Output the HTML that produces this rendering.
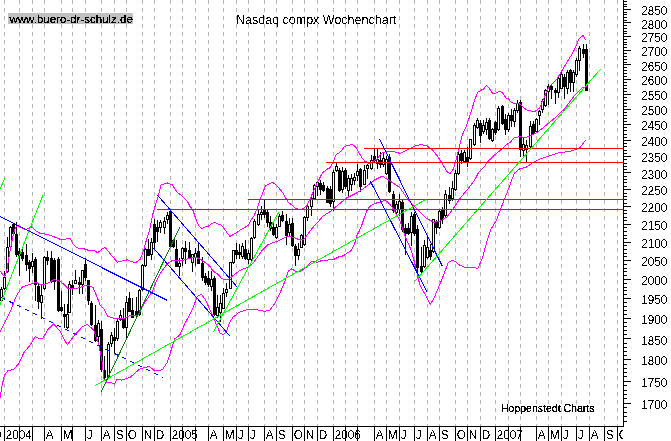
<!DOCTYPE html>
<html><head><meta charset="utf-8"><style>
html,body{margin:0;padding:0;background:#fff;overflow:hidden;}
svg{display:block;}
text{font-family:"Liberation Sans",sans-serif;fill:#000;filter:url(#crisp);}
.ax{font-size:13px;}
.mo{font-size:13px;}
.web{font-size:11.5px;filter:url(#crisp2);}
.title{font-size:12.5px;}
.hop{font-size:10.5px;filter:url(#crisp2);}
</style></head><body>
<svg width="671" height="441" viewBox="0 0 671 441" shape-rendering="crispEdges">
<defs><filter id="crisp" x="-10%" y="-30%" width="120%" height="160%"><feComponentTransfer><feFuncA type="discrete" tableValues="0 1"/></feComponentTransfer></filter><filter id="crisp2" x="-10%" y="-30%" width="120%" height="160%"><feComponentTransfer><feFuncA type="discrete" tableValues="0 0 1 1 1 1"/></feComponentTransfer></filter></defs>
<rect width="671" height="441" fill="#fff"/>
<line x1="4.5" y1="0" x2="4.5" y2="426" stroke="#b4b4b4" stroke-dasharray="4 4"/>
<line x1="19.5" y1="0" x2="19.5" y2="426" stroke="#b4b4b4" stroke-dasharray="4 4"/>
<line x1="32.5" y1="0" x2="32.5" y2="426" stroke="#b4b4b4" stroke-dasharray="4 4"/>
<line x1="44.5" y1="0" x2="44.5" y2="426" stroke="#b4b4b4" stroke-dasharray="4 4"/>
<line x1="61.5" y1="0" x2="61.5" y2="426" stroke="#b4b4b4" stroke-dasharray="4 4"/>
<line x1="72.5" y1="0" x2="72.5" y2="426" stroke="#b4b4b4" stroke-dasharray="4 4"/>
<line x1="85.5" y1="0" x2="85.5" y2="426" stroke="#b4b4b4" stroke-dasharray="4 4"/>
<line x1="101.5" y1="0" x2="101.5" y2="426" stroke="#b4b4b4" stroke-dasharray="4 4"/>
<line x1="114.5" y1="0" x2="114.5" y2="426" stroke="#b4b4b4" stroke-dasharray="4 4"/>
<line x1="126.5" y1="0" x2="126.5" y2="426" stroke="#b4b4b4" stroke-dasharray="4 4"/>
<line x1="142.5" y1="0" x2="142.5" y2="426" stroke="#b4b4b4" stroke-dasharray="4 4"/>
<line x1="154.5" y1="0" x2="154.5" y2="426" stroke="#b4b4b4" stroke-dasharray="4 4"/>
<line x1="170.5" y1="0" x2="170.5" y2="426" stroke="#b4b4b4" stroke-dasharray="4 4"/>
<line x1="182.5" y1="0" x2="182.5" y2="426" stroke="#b4b4b4" stroke-dasharray="4 4"/>
<line x1="195.5" y1="0" x2="195.5" y2="426" stroke="#b4b4b4" stroke-dasharray="4 4"/>
<line x1="208.5" y1="0" x2="208.5" y2="426" stroke="#b4b4b4" stroke-dasharray="4 4"/>
<line x1="223.5" y1="0" x2="223.5" y2="426" stroke="#b4b4b4" stroke-dasharray="4 4"/>
<line x1="236.5" y1="0" x2="236.5" y2="426" stroke="#b4b4b4" stroke-dasharray="4 4"/>
<line x1="248.5" y1="0" x2="248.5" y2="426" stroke="#b4b4b4" stroke-dasharray="4 4"/>
<line x1="264.5" y1="0" x2="264.5" y2="426" stroke="#b4b4b4" stroke-dasharray="4 4"/>
<line x1="276.5" y1="0" x2="276.5" y2="426" stroke="#b4b4b4" stroke-dasharray="4 4"/>
<line x1="292.5" y1="0" x2="292.5" y2="426" stroke="#b4b4b4" stroke-dasharray="4 4"/>
<line x1="304.5" y1="0" x2="304.5" y2="426" stroke="#b4b4b4" stroke-dasharray="4 4"/>
<line x1="317.5" y1="0" x2="317.5" y2="426" stroke="#b4b4b4" stroke-dasharray="4 4"/>
<line x1="333.5" y1="0" x2="333.5" y2="426" stroke="#b4b4b4" stroke-dasharray="4 4"/>
<line x1="345.5" y1="0" x2="345.5" y2="426" stroke="#b4b4b4" stroke-dasharray="4 4"/>
<line x1="357.5" y1="0" x2="357.5" y2="426" stroke="#b4b4b4" stroke-dasharray="4 4"/>
<line x1="374.5" y1="0" x2="374.5" y2="426" stroke="#b4b4b4" stroke-dasharray="4 4"/>
<line x1="386.5" y1="0" x2="386.5" y2="426" stroke="#b4b4b4" stroke-dasharray="4 4"/>
<line x1="399.5" y1="0" x2="399.5" y2="426" stroke="#b4b4b4" stroke-dasharray="4 4"/>
<line x1="414.5" y1="0" x2="414.5" y2="426" stroke="#b4b4b4" stroke-dasharray="4 4"/>
<line x1="427.5" y1="0" x2="427.5" y2="426" stroke="#b4b4b4" stroke-dasharray="4 4"/>
<line x1="439.5" y1="0" x2="439.5" y2="426" stroke="#b4b4b4" stroke-dasharray="4 4"/>
<line x1="455.5" y1="0" x2="455.5" y2="426" stroke="#b4b4b4" stroke-dasharray="4 4"/>
<line x1="467.5" y1="0" x2="467.5" y2="426" stroke="#b4b4b4" stroke-dasharray="4 4"/>
<line x1="480.5" y1="0" x2="480.5" y2="426" stroke="#b4b4b4" stroke-dasharray="4 4"/>
<line x1="495.5" y1="0" x2="495.5" y2="426" stroke="#b4b4b4" stroke-dasharray="4 4"/>
<line x1="508.5" y1="0" x2="508.5" y2="426" stroke="#b4b4b4" stroke-dasharray="4 4"/>
<line x1="520.5" y1="0" x2="520.5" y2="426" stroke="#b4b4b4" stroke-dasharray="4 4"/>
<line x1="536.5" y1="0" x2="536.5" y2="426" stroke="#b4b4b4" stroke-dasharray="4 4"/>
<line x1="548.5" y1="0" x2="548.5" y2="426" stroke="#b4b4b4" stroke-dasharray="4 4"/>
<line x1="561.5" y1="0" x2="561.5" y2="426" stroke="#b4b4b4" stroke-dasharray="4 4"/>
<line x1="576.5" y1="0" x2="576.5" y2="426" stroke="#b4b4b4" stroke-dasharray="4 4"/>
<line x1="589.5" y1="0" x2="589.5" y2="426" stroke="#b4b4b4" stroke-dasharray="4 4"/>
<line x1="604.5" y1="0" x2="604.5" y2="426" stroke="#b4b4b4" stroke-dasharray="4 4"/>
<line x1="617.5" y1="0" x2="617.5" y2="426" stroke="#b4b4b4" stroke-dasharray="4 4"/>
<rect x="8" y="13" width="125" height="11" fill="#c0c0c0"/>
<text x="9.5" y="22.5" class="web">www.buero-dr-schulz.de</text>
<text x="236" y="23.7" class="title">Nasdaq compx Wochenchart</text>
<text x="501" y="411.8" class="hop">Hoppenstedt Charts</text>
<rect x="1" y="287" width="1" height="15" fill="#000"/>
<rect x="0" y="289" width="3" height="12" fill="#000"/>
<rect x="1" y="290" width="1" height="10" fill="#fff"/>
<rect x="4" y="271" width="1" height="19" fill="#000"/>
<rect x="3" y="277" width="3" height="12" fill="#000"/>
<rect x="4" y="278" width="1" height="10" fill="#fff"/>
<rect x="7" y="237" width="1" height="36" fill="#000"/>
<rect x="6" y="247" width="3" height="25" fill="#000"/>
<rect x="7" y="248" width="1" height="23" fill="#fff"/>
<rect x="10" y="226" width="1" height="22" fill="#000"/>
<rect x="9" y="227" width="3" height="20" fill="#000"/>
<rect x="10" y="228" width="1" height="18" fill="#fff"/>
<rect x="13" y="223" width="1" height="12" fill="#000"/>
<rect x="12" y="224" width="3" height="10" fill="#000"/>
<rect x="16" y="222" width="1" height="35" fill="#000"/>
<rect x="15" y="234" width="3" height="21" fill="#000"/>
<rect x="19" y="248" width="1" height="28" fill="#000"/>
<rect x="18" y="251" width="3" height="5" fill="#000"/>
<rect x="22" y="248" width="1" height="13" fill="#000"/>
<rect x="21" y="252" width="3" height="7" fill="#000"/>
<rect x="26" y="244" width="1" height="27" fill="#000"/>
<rect x="25" y="255" width="3" height="10" fill="#000"/>
<rect x="29" y="260" width="1" height="22" fill="#000"/>
<rect x="28" y="262" width="3" height="7" fill="#000"/>
<rect x="32" y="253" width="1" height="20" fill="#000"/>
<rect x="31" y="261" width="3" height="6" fill="#000"/>
<rect x="32" y="262" width="1" height="4" fill="#fff"/>
<rect x="35" y="257" width="1" height="44" fill="#000"/>
<rect x="34" y="259" width="3" height="26" fill="#000"/>
<rect x="38" y="283" width="1" height="26" fill="#000"/>
<rect x="37" y="286" width="3" height="16" fill="#000"/>
<rect x="41" y="285" width="1" height="34" fill="#000"/>
<rect x="40" y="295" width="3" height="8" fill="#000"/>
<rect x="41" y="296" width="1" height="6" fill="#fff"/>
<rect x="44" y="256" width="1" height="34" fill="#000"/>
<rect x="43" y="257" width="3" height="32" fill="#000"/>
<rect x="44" y="258" width="1" height="30" fill="#fff"/>
<rect x="47" y="251" width="1" height="14" fill="#000"/>
<rect x="46" y="257" width="3" height="4" fill="#000"/>
<rect x="51" y="251" width="1" height="32" fill="#000"/>
<rect x="50" y="258" width="3" height="24" fill="#000"/>
<rect x="54" y="258" width="1" height="32" fill="#000"/>
<rect x="53" y="260" width="3" height="22" fill="#000"/>
<rect x="58" y="257" width="1" height="55" fill="#000"/>
<rect x="57" y="259" width="3" height="52" fill="#000"/>
<rect x="61" y="291" width="1" height="21" fill="#000"/>
<rect x="60" y="307" width="3" height="4" fill="#000"/>
<rect x="64" y="304" width="1" height="24" fill="#000"/>
<rect x="63" y="314" width="3" height="3" fill="#000"/>
<rect x="67" y="304" width="1" height="25" fill="#000"/>
<rect x="66" y="314" width="3" height="14" fill="#000"/>
<rect x="67" y="315" width="1" height="12" fill="#fff"/>
<rect x="69" y="281" width="1" height="32" fill="#000"/>
<rect x="68" y="284" width="3" height="29" fill="#000"/>
<rect x="69" y="285" width="1" height="27" fill="#fff"/>
<rect x="72" y="280" width="1" height="15" fill="#000"/>
<rect x="71" y="285" width="3" height="4" fill="#000"/>
<rect x="75" y="270" width="1" height="14" fill="#000"/>
<rect x="74" y="280" width="3" height="4" fill="#000"/>
<rect x="75" y="281" width="1" height="2" fill="#fff"/>
<rect x="79" y="277" width="1" height="17" fill="#000"/>
<rect x="78" y="282" width="3" height="3" fill="#000"/>
<rect x="82" y="270" width="1" height="24" fill="#000"/>
<rect x="81" y="270" width="3" height="15" fill="#000"/>
<rect x="82" y="271" width="1" height="13" fill="#fff"/>
<rect x="85" y="258" width="1" height="23" fill="#000"/>
<rect x="84" y="264" width="3" height="14" fill="#000"/>
<rect x="88" y="280" width="1" height="25" fill="#000"/>
<rect x="87" y="280" width="3" height="21" fill="#000"/>
<rect x="91" y="301" width="1" height="25" fill="#000"/>
<rect x="90" y="303" width="3" height="22" fill="#000"/>
<rect x="95" y="305" width="1" height="37" fill="#000"/>
<rect x="94" y="325" width="3" height="16" fill="#000"/>
<rect x="98" y="320" width="1" height="22" fill="#000"/>
<rect x="97" y="323" width="3" height="14" fill="#000"/>
<rect x="98" y="324" width="1" height="12" fill="#fff"/>
<rect x="101" y="321" width="1" height="51" fill="#000"/>
<rect x="100" y="329" width="3" height="41" fill="#000"/>
<rect x="104" y="356" width="1" height="24" fill="#000"/>
<rect x="103" y="370" width="3" height="8" fill="#000"/>
<rect x="108" y="342" width="1" height="37" fill="#000"/>
<rect x="107" y="344" width="3" height="34" fill="#000"/>
<rect x="108" y="345" width="1" height="32" fill="#fff"/>
<rect x="111" y="332" width="1" height="15" fill="#000"/>
<rect x="110" y="335" width="3" height="9" fill="#000"/>
<rect x="111" y="336" width="1" height="7" fill="#fff"/>
<rect x="114" y="328" width="1" height="26" fill="#000"/>
<rect x="113" y="337" width="3" height="4" fill="#000"/>
<rect x="117" y="318" width="1" height="23" fill="#000"/>
<rect x="116" y="321" width="3" height="18" fill="#000"/>
<rect x="117" y="322" width="1" height="16" fill="#fff"/>
<rect x="120" y="310" width="1" height="11" fill="#000"/>
<rect x="119" y="315" width="3" height="5" fill="#000"/>
<rect x="120" y="316" width="1" height="3" fill="#fff"/>
<rect x="123" y="308" width="1" height="21" fill="#000"/>
<rect x="122" y="318" width="3" height="10" fill="#000"/>
<rect x="126" y="296" width="1" height="43" fill="#000"/>
<rect x="125" y="302" width="3" height="26" fill="#000"/>
<rect x="126" y="303" width="1" height="24" fill="#fff"/>
<rect x="129" y="292" width="1" height="20" fill="#000"/>
<rect x="128" y="298" width="3" height="14" fill="#000"/>
<rect x="132" y="298" width="1" height="20" fill="#000"/>
<rect x="131" y="310" width="3" height="8" fill="#000"/>
<rect x="136" y="297" width="1" height="21" fill="#000"/>
<rect x="135" y="311" width="3" height="5" fill="#000"/>
<rect x="139" y="289" width="1" height="27" fill="#000"/>
<rect x="138" y="290" width="3" height="25" fill="#000"/>
<rect x="139" y="291" width="1" height="23" fill="#fff"/>
<rect x="142" y="264" width="1" height="27" fill="#000"/>
<rect x="141" y="265" width="3" height="25" fill="#000"/>
<rect x="142" y="266" width="1" height="23" fill="#fff"/>
<rect x="145" y="248" width="1" height="19" fill="#000"/>
<rect x="144" y="249" width="3" height="17" fill="#000"/>
<rect x="145" y="250" width="1" height="15" fill="#fff"/>
<rect x="148" y="239" width="1" height="17" fill="#000"/>
<rect x="147" y="249" width="3" height="7" fill="#000"/>
<rect x="151" y="238" width="1" height="22" fill="#000"/>
<rect x="150" y="242" width="3" height="13" fill="#000"/>
<rect x="151" y="243" width="1" height="11" fill="#fff"/>
<rect x="154" y="219" width="1" height="30" fill="#000"/>
<rect x="153" y="224" width="3" height="19" fill="#000"/>
<rect x="157" y="220" width="1" height="22" fill="#000"/>
<rect x="156" y="227" width="3" height="5" fill="#000"/>
<rect x="160" y="220" width="1" height="13" fill="#000"/>
<rect x="159" y="222" width="3" height="6" fill="#000"/>
<rect x="160" y="223" width="1" height="4" fill="#fff"/>
<rect x="164" y="217" width="1" height="17" fill="#000"/>
<rect x="163" y="221" width="3" height="7" fill="#000"/>
<rect x="164" y="222" width="1" height="5" fill="#fff"/>
<rect x="167" y="212" width="1" height="12" fill="#000"/>
<rect x="166" y="215" width="3" height="5" fill="#000"/>
<rect x="167" y="216" width="1" height="3" fill="#fff"/>
<rect x="170" y="209" width="1" height="38" fill="#000"/>
<rect x="169" y="211" width="3" height="36" fill="#000"/>
<rect x="173" y="239" width="1" height="9" fill="#000"/>
<rect x="172" y="240" width="3" height="7" fill="#000"/>
<rect x="176" y="240" width="1" height="27" fill="#000"/>
<rect x="175" y="249" width="3" height="18" fill="#000"/>
<rect x="179" y="258" width="1" height="18" fill="#000"/>
<rect x="178" y="263" width="3" height="4" fill="#000"/>
<rect x="179" y="264" width="1" height="2" fill="#fff"/>
<rect x="182" y="247" width="1" height="19" fill="#000"/>
<rect x="181" y="248" width="3" height="11" fill="#000"/>
<rect x="182" y="249" width="1" height="9" fill="#fff"/>
<rect x="185" y="241" width="1" height="23" fill="#000"/>
<rect x="184" y="248" width="3" height="4" fill="#000"/>
<rect x="189" y="242" width="1" height="17" fill="#000"/>
<rect x="188" y="250" width="3" height="8" fill="#000"/>
<rect x="192" y="254" width="1" height="18" fill="#000"/>
<rect x="191" y="254" width="3" height="9" fill="#000"/>
<rect x="192" y="255" width="1" height="7" fill="#fff"/>
<rect x="195" y="248" width="1" height="18" fill="#000"/>
<rect x="194" y="253" width="3" height="5" fill="#000"/>
<rect x="195" y="254" width="1" height="3" fill="#fff"/>
<rect x="198" y="243" width="1" height="21" fill="#000"/>
<rect x="197" y="251" width="3" height="13" fill="#000"/>
<rect x="202" y="257" width="1" height="24" fill="#000"/>
<rect x="201" y="263" width="3" height="15" fill="#000"/>
<rect x="205" y="273" width="1" height="12" fill="#000"/>
<rect x="204" y="276" width="3" height="7" fill="#000"/>
<rect x="208" y="271" width="1" height="16" fill="#000"/>
<rect x="207" y="278" width="3" height="7" fill="#000"/>
<rect x="211" y="271" width="1" height="20" fill="#000"/>
<rect x="210" y="279" width="3" height="8" fill="#000"/>
<rect x="211" y="280" width="1" height="6" fill="#fff"/>
<rect x="214" y="276" width="1" height="40" fill="#000"/>
<rect x="213" y="278" width="3" height="37" fill="#000"/>
<rect x="217" y="295" width="1" height="23" fill="#000"/>
<rect x="216" y="307" width="3" height="9" fill="#000"/>
<rect x="217" y="308" width="1" height="7" fill="#fff"/>
<rect x="220" y="295" width="1" height="27" fill="#000"/>
<rect x="219" y="303" width="3" height="10" fill="#000"/>
<rect x="220" y="304" width="1" height="8" fill="#fff"/>
<rect x="223" y="288" width="1" height="21" fill="#000"/>
<rect x="222" y="293" width="3" height="16" fill="#000"/>
<rect x="223" y="294" width="1" height="14" fill="#fff"/>
<rect x="226" y="283" width="1" height="14" fill="#000"/>
<rect x="225" y="289" width="3" height="4" fill="#000"/>
<rect x="226" y="290" width="1" height="2" fill="#fff"/>
<rect x="230" y="262" width="1" height="27" fill="#000"/>
<rect x="229" y="262" width="3" height="27" fill="#000"/>
<rect x="230" y="263" width="1" height="25" fill="#fff"/>
<rect x="233" y="250" width="1" height="14" fill="#000"/>
<rect x="232" y="250" width="3" height="13" fill="#000"/>
<rect x="233" y="251" width="1" height="11" fill="#fff"/>
<rect x="236" y="243" width="1" height="16" fill="#000"/>
<rect x="235" y="250" width="3" height="5" fill="#000"/>
<rect x="239" y="244" width="1" height="15" fill="#000"/>
<rect x="238" y="252" width="3" height="3" fill="#000"/>
<rect x="242" y="243" width="1" height="16" fill="#000"/>
<rect x="241" y="246" width="3" height="11" fill="#000"/>
<rect x="242" y="247" width="1" height="9" fill="#fff"/>
<rect x="245" y="240" width="1" height="20" fill="#000"/>
<rect x="244" y="249" width="3" height="10" fill="#000"/>
<rect x="248" y="250" width="1" height="14" fill="#000"/>
<rect x="247" y="253" width="3" height="7" fill="#000"/>
<rect x="248" y="254" width="1" height="5" fill="#fff"/>
<rect x="251" y="237" width="1" height="24" fill="#000"/>
<rect x="250" y="238" width="3" height="22" fill="#000"/>
<rect x="251" y="239" width="1" height="20" fill="#fff"/>
<rect x="254" y="219" width="1" height="20" fill="#000"/>
<rect x="253" y="221" width="3" height="17" fill="#000"/>
<rect x="254" y="222" width="1" height="15" fill="#fff"/>
<rect x="258" y="210" width="1" height="16" fill="#000"/>
<rect x="257" y="214" width="3" height="11" fill="#000"/>
<rect x="258" y="215" width="1" height="9" fill="#fff"/>
<rect x="261" y="206" width="1" height="14" fill="#000"/>
<rect x="260" y="212" width="3" height="3" fill="#000"/>
<rect x="261" y="213" width="1" height="1" fill="#fff"/>
<rect x="264" y="200" width="1" height="18" fill="#000"/>
<rect x="263" y="210" width="3" height="5" fill="#000"/>
<rect x="267" y="210" width="1" height="17" fill="#000"/>
<rect x="266" y="212" width="3" height="11" fill="#000"/>
<rect x="270" y="216" width="1" height="15" fill="#000"/>
<rect x="269" y="222" width="3" height="7" fill="#000"/>
<rect x="273" y="222" width="1" height="14" fill="#000"/>
<rect x="272" y="227" width="3" height="8" fill="#000"/>
<rect x="276" y="224" width="1" height="15" fill="#000"/>
<rect x="275" y="227" width="3" height="11" fill="#000"/>
<rect x="276" y="228" width="1" height="9" fill="#fff"/>
<rect x="279" y="214" width="1" height="13" fill="#000"/>
<rect x="278" y="216" width="3" height="11" fill="#000"/>
<rect x="279" y="217" width="1" height="9" fill="#fff"/>
<rect x="282" y="211" width="1" height="11" fill="#000"/>
<rect x="281" y="215" width="3" height="6" fill="#000"/>
<rect x="286" y="214" width="1" height="31" fill="#000"/>
<rect x="285" y="221" width="3" height="15" fill="#000"/>
<rect x="289" y="218" width="1" height="18" fill="#000"/>
<rect x="288" y="224" width="3" height="9" fill="#000"/>
<rect x="289" y="225" width="1" height="7" fill="#fff"/>
<rect x="292" y="218" width="1" height="29" fill="#000"/>
<rect x="291" y="223" width="3" height="23" fill="#000"/>
<rect x="295" y="244" width="1" height="22" fill="#000"/>
<rect x="294" y="246" width="3" height="10" fill="#000"/>
<rect x="298" y="243" width="1" height="17" fill="#000"/>
<rect x="297" y="249" width="3" height="7" fill="#000"/>
<rect x="298" y="250" width="1" height="5" fill="#fff"/>
<rect x="301" y="234" width="1" height="14" fill="#000"/>
<rect x="300" y="235" width="3" height="13" fill="#000"/>
<rect x="301" y="236" width="1" height="11" fill="#fff"/>
<rect x="304" y="216" width="1" height="30" fill="#000"/>
<rect x="303" y="217" width="3" height="28" fill="#000"/>
<rect x="304" y="218" width="1" height="26" fill="#fff"/>
<rect x="307" y="205" width="1" height="16" fill="#000"/>
<rect x="306" y="206" width="3" height="12" fill="#000"/>
<rect x="307" y="207" width="1" height="10" fill="#fff"/>
<rect x="311" y="195" width="1" height="21" fill="#000"/>
<rect x="310" y="198" width="3" height="9" fill="#000"/>
<rect x="311" y="199" width="1" height="7" fill="#fff"/>
<rect x="314" y="184" width="1" height="16" fill="#000"/>
<rect x="313" y="185" width="3" height="14" fill="#000"/>
<rect x="314" y="186" width="1" height="12" fill="#fff"/>
<rect x="317" y="181" width="1" height="15" fill="#000"/>
<rect x="316" y="182" width="3" height="5" fill="#000"/>
<rect x="317" y="183" width="1" height="3" fill="#fff"/>
<rect x="320" y="180" width="1" height="15" fill="#000"/>
<rect x="319" y="183" width="3" height="7" fill="#000"/>
<rect x="323" y="182" width="1" height="10" fill="#000"/>
<rect x="322" y="185" width="3" height="6" fill="#000"/>
<rect x="327" y="186" width="1" height="17" fill="#000"/>
<rect x="326" y="188" width="3" height="15" fill="#000"/>
<rect x="330" y="186" width="1" height="21" fill="#000"/>
<rect x="329" y="189" width="3" height="15" fill="#000"/>
<rect x="333" y="170" width="1" height="41" fill="#000"/>
<rect x="332" y="172" width="3" height="30" fill="#000"/>
<rect x="333" y="173" width="1" height="28" fill="#fff"/>
<rect x="336" y="163" width="1" height="9" fill="#000"/>
<rect x="335" y="166" width="3" height="5" fill="#000"/>
<rect x="336" y="167" width="1" height="3" fill="#fff"/>
<rect x="339" y="168" width="1" height="24" fill="#000"/>
<rect x="338" y="170" width="3" height="21" fill="#000"/>
<rect x="342" y="167" width="1" height="26" fill="#000"/>
<rect x="341" y="171" width="3" height="19" fill="#000"/>
<rect x="342" y="172" width="1" height="17" fill="#fff"/>
<rect x="345" y="168" width="1" height="21" fill="#000"/>
<rect x="344" y="170" width="3" height="17" fill="#000"/>
<rect x="348" y="175" width="1" height="21" fill="#000"/>
<rect x="347" y="178" width="3" height="13" fill="#000"/>
<rect x="348" y="179" width="1" height="11" fill="#fff"/>
<rect x="351" y="174" width="1" height="17" fill="#000"/>
<rect x="350" y="178" width="3" height="7" fill="#000"/>
<rect x="351" y="179" width="1" height="5" fill="#fff"/>
<rect x="354" y="173" width="1" height="12" fill="#000"/>
<rect x="353" y="177" width="3" height="4" fill="#000"/>
<rect x="354" y="178" width="1" height="2" fill="#fff"/>
<rect x="357" y="164" width="1" height="17" fill="#000"/>
<rect x="356" y="171" width="3" height="5" fill="#000"/>
<rect x="357" y="172" width="1" height="3" fill="#fff"/>
<rect x="360" y="168" width="1" height="24" fill="#000"/>
<rect x="359" y="169" width="3" height="18" fill="#000"/>
<rect x="364" y="165" width="1" height="20" fill="#000"/>
<rect x="363" y="170" width="3" height="15" fill="#000"/>
<rect x="364" y="171" width="1" height="13" fill="#fff"/>
<rect x="367" y="164" width="1" height="15" fill="#000"/>
<rect x="366" y="165" width="3" height="4" fill="#000"/>
<rect x="367" y="166" width="1" height="2" fill="#fff"/>
<rect x="371" y="155" width="1" height="15" fill="#000"/>
<rect x="370" y="160" width="3" height="9" fill="#000"/>
<rect x="371" y="161" width="1" height="7" fill="#fff"/>
<rect x="374" y="149" width="1" height="14" fill="#000"/>
<rect x="373" y="156" width="3" height="5" fill="#000"/>
<rect x="377" y="149" width="1" height="20" fill="#000"/>
<rect x="376" y="159" width="3" height="5" fill="#000"/>
<rect x="377" y="160" width="1" height="3" fill="#fff"/>
<rect x="380" y="152" width="1" height="16" fill="#000"/>
<rect x="379" y="160" width="3" height="5" fill="#000"/>
<rect x="383" y="153" width="1" height="14" fill="#000"/>
<rect x="382" y="158" width="3" height="7" fill="#000"/>
<rect x="383" y="159" width="1" height="5" fill="#fff"/>
<rect x="386" y="156" width="1" height="19" fill="#000"/>
<rect x="385" y="159" width="3" height="15" fill="#000"/>
<rect x="386" y="160" width="1" height="13" fill="#fff"/>
<rect x="389" y="154" width="1" height="39" fill="#000"/>
<rect x="388" y="157" width="3" height="35" fill="#000"/>
<rect x="393" y="191" width="1" height="22" fill="#000"/>
<rect x="392" y="194" width="3" height="17" fill="#000"/>
<rect x="396" y="201" width="1" height="15" fill="#000"/>
<rect x="395" y="204" width="3" height="9" fill="#000"/>
<rect x="396" y="205" width="1" height="7" fill="#fff"/>
<rect x="399" y="194" width="1" height="22" fill="#000"/>
<rect x="398" y="201" width="3" height="9" fill="#000"/>
<rect x="399" y="202" width="1" height="7" fill="#fff"/>
<rect x="402" y="200" width="1" height="32" fill="#000"/>
<rect x="401" y="202" width="3" height="28" fill="#000"/>
<rect x="405" y="224" width="1" height="31" fill="#000"/>
<rect x="404" y="228" width="3" height="6" fill="#000"/>
<rect x="408" y="223" width="1" height="12" fill="#000"/>
<rect x="407" y="228" width="3" height="6" fill="#000"/>
<rect x="411" y="212" width="1" height="34" fill="#000"/>
<rect x="410" y="216" width="3" height="17" fill="#000"/>
<rect x="411" y="217" width="1" height="15" fill="#fff"/>
<rect x="414" y="212" width="1" height="24" fill="#000"/>
<rect x="413" y="214" width="3" height="20" fill="#000"/>
<rect x="417" y="225" width="1" height="47" fill="#000"/>
<rect x="416" y="229" width="3" height="39" fill="#000"/>
<rect x="421" y="247" width="1" height="28" fill="#000"/>
<rect x="420" y="266" width="3" height="6" fill="#000"/>
<rect x="424" y="240" width="1" height="28" fill="#000"/>
<rect x="423" y="245" width="3" height="22" fill="#000"/>
<rect x="424" y="246" width="1" height="20" fill="#fff"/>
<rect x="427" y="237" width="1" height="22" fill="#000"/>
<rect x="426" y="247" width="3" height="11" fill="#000"/>
<rect x="427" y="248" width="1" height="9" fill="#fff"/>
<rect x="430" y="244" width="1" height="16" fill="#000"/>
<rect x="429" y="250" width="3" height="7" fill="#000"/>
<rect x="433" y="219" width="1" height="34" fill="#000"/>
<rect x="432" y="219" width="3" height="33" fill="#000"/>
<rect x="433" y="220" width="1" height="31" fill="#fff"/>
<rect x="436" y="220" width="1" height="14" fill="#000"/>
<rect x="435" y="221" width="3" height="7" fill="#000"/>
<rect x="439" y="210" width="1" height="19" fill="#000"/>
<rect x="438" y="211" width="3" height="17" fill="#000"/>
<rect x="439" y="212" width="1" height="15" fill="#fff"/>
<rect x="442" y="207" width="1" height="17" fill="#000"/>
<rect x="441" y="209" width="3" height="11" fill="#000"/>
<rect x="445" y="190" width="1" height="27" fill="#000"/>
<rect x="444" y="194" width="3" height="22" fill="#000"/>
<rect x="445" y="195" width="1" height="20" fill="#fff"/>
<rect x="449" y="187" width="1" height="17" fill="#000"/>
<rect x="448" y="195" width="3" height="6" fill="#000"/>
<rect x="452" y="181" width="1" height="20" fill="#000"/>
<rect x="451" y="188" width="3" height="11" fill="#000"/>
<rect x="452" y="189" width="1" height="9" fill="#fff"/>
<rect x="455" y="170" width="1" height="21" fill="#000"/>
<rect x="454" y="173" width="3" height="17" fill="#000"/>
<rect x="455" y="174" width="1" height="15" fill="#fff"/>
<rect x="458" y="151" width="1" height="24" fill="#000"/>
<rect x="457" y="154" width="3" height="20" fill="#000"/>
<rect x="458" y="155" width="1" height="18" fill="#fff"/>
<rect x="461" y="150" width="1" height="14" fill="#000"/>
<rect x="460" y="153" width="3" height="8" fill="#000"/>
<rect x="464" y="150" width="1" height="12" fill="#000"/>
<rect x="463" y="152" width="3" height="10" fill="#000"/>
<rect x="464" y="153" width="1" height="8" fill="#fff"/>
<rect x="467" y="147" width="1" height="20" fill="#000"/>
<rect x="466" y="157" width="3" height="6" fill="#000"/>
<rect x="470" y="139" width="1" height="21" fill="#000"/>
<rect x="469" y="139" width="3" height="20" fill="#000"/>
<rect x="470" y="140" width="1" height="18" fill="#fff"/>
<rect x="474" y="123" width="1" height="23" fill="#000"/>
<rect x="473" y="125" width="3" height="20" fill="#000"/>
<rect x="474" y="126" width="1" height="18" fill="#fff"/>
<rect x="477" y="118" width="1" height="11" fill="#000"/>
<rect x="476" y="120" width="3" height="8" fill="#000"/>
<rect x="477" y="121" width="1" height="6" fill="#fff"/>
<rect x="480" y="120" width="1" height="23" fill="#000"/>
<rect x="479" y="123" width="3" height="13" fill="#000"/>
<rect x="483" y="120" width="1" height="14" fill="#000"/>
<rect x="482" y="125" width="3" height="7" fill="#000"/>
<rect x="483" y="126" width="1" height="5" fill="#fff"/>
<rect x="486" y="118" width="1" height="17" fill="#000"/>
<rect x="485" y="122" width="3" height="8" fill="#000"/>
<rect x="486" y="123" width="1" height="6" fill="#fff"/>
<rect x="489" y="118" width="1" height="22" fill="#000"/>
<rect x="488" y="120" width="3" height="19" fill="#000"/>
<rect x="492" y="128" width="1" height="14" fill="#000"/>
<rect x="491" y="129" width="3" height="12" fill="#000"/>
<rect x="492" y="130" width="1" height="10" fill="#fff"/>
<rect x="495" y="121" width="1" height="14" fill="#000"/>
<rect x="494" y="122" width="3" height="11" fill="#000"/>
<rect x="498" y="106" width="1" height="25" fill="#000"/>
<rect x="497" y="108" width="3" height="22" fill="#000"/>
<rect x="498" y="109" width="1" height="20" fill="#fff"/>
<rect x="502" y="105" width="1" height="20" fill="#000"/>
<rect x="501" y="106" width="3" height="18" fill="#000"/>
<rect x="505" y="114" width="1" height="21" fill="#000"/>
<rect x="504" y="119" width="3" height="11" fill="#000"/>
<rect x="508" y="113" width="1" height="19" fill="#000"/>
<rect x="507" y="115" width="3" height="15" fill="#000"/>
<rect x="508" y="116" width="1" height="13" fill="#fff"/>
<rect x="511" y="109" width="1" height="18" fill="#000"/>
<rect x="510" y="115" width="3" height="6" fill="#000"/>
<rect x="514" y="108" width="1" height="19" fill="#000"/>
<rect x="513" y="110" width="3" height="12" fill="#000"/>
<rect x="514" y="111" width="1" height="10" fill="#fff"/>
<rect x="517" y="100" width="1" height="13" fill="#000"/>
<rect x="516" y="103" width="3" height="8" fill="#000"/>
<rect x="517" y="104" width="1" height="6" fill="#fff"/>
<rect x="520" y="100" width="1" height="57" fill="#000"/>
<rect x="519" y="102" width="3" height="48" fill="#000"/>
<rect x="523" y="138" width="1" height="18" fill="#000"/>
<rect x="522" y="144" width="3" height="7" fill="#000"/>
<rect x="523" y="145" width="1" height="5" fill="#fff"/>
<rect x="526" y="140" width="1" height="22" fill="#000"/>
<rect x="525" y="145" width="3" height="5" fill="#000"/>
<rect x="526" y="146" width="1" height="3" fill="#fff"/>
<rect x="530" y="121" width="1" height="27" fill="#000"/>
<rect x="529" y="126" width="3" height="21" fill="#000"/>
<rect x="530" y="127" width="1" height="19" fill="#fff"/>
<rect x="533" y="121" width="1" height="14" fill="#000"/>
<rect x="532" y="124" width="3" height="10" fill="#000"/>
<rect x="536" y="118" width="1" height="15" fill="#000"/>
<rect x="535" y="119" width="3" height="13" fill="#000"/>
<rect x="536" y="120" width="1" height="11" fill="#fff"/>
<rect x="539" y="110" width="1" height="15" fill="#000"/>
<rect x="538" y="111" width="3" height="5" fill="#000"/>
<rect x="539" y="112" width="1" height="3" fill="#fff"/>
<rect x="542" y="99" width="1" height="14" fill="#000"/>
<rect x="541" y="101" width="3" height="9" fill="#000"/>
<rect x="542" y="102" width="1" height="7" fill="#fff"/>
<rect x="545" y="89" width="1" height="18" fill="#000"/>
<rect x="544" y="90" width="3" height="16" fill="#000"/>
<rect x="545" y="91" width="1" height="14" fill="#fff"/>
<rect x="548" y="84" width="1" height="21" fill="#000"/>
<rect x="547" y="86" width="3" height="6" fill="#000"/>
<rect x="548" y="87" width="1" height="4" fill="#fff"/>
<rect x="551" y="84" width="1" height="15" fill="#000"/>
<rect x="550" y="86" width="3" height="4" fill="#000"/>
<rect x="555" y="88" width="1" height="16" fill="#000"/>
<rect x="554" y="90" width="3" height="3" fill="#000"/>
<rect x="558" y="76" width="1" height="22" fill="#000"/>
<rect x="557" y="78" width="3" height="15" fill="#000"/>
<rect x="558" y="79" width="1" height="13" fill="#fff"/>
<rect x="561" y="72" width="1" height="17" fill="#000"/>
<rect x="560" y="74" width="3" height="15" fill="#000"/>
<rect x="561" y="75" width="1" height="13" fill="#fff"/>
<rect x="564" y="74" width="1" height="25" fill="#000"/>
<rect x="563" y="77" width="3" height="10" fill="#000"/>
<rect x="567" y="70" width="1" height="24" fill="#000"/>
<rect x="566" y="72" width="3" height="17" fill="#000"/>
<rect x="567" y="73" width="1" height="15" fill="#fff"/>
<rect x="570" y="69" width="1" height="23" fill="#000"/>
<rect x="569" y="70" width="3" height="13" fill="#000"/>
<rect x="573" y="70" width="1" height="22" fill="#000"/>
<rect x="572" y="72" width="3" height="11" fill="#000"/>
<rect x="573" y="73" width="1" height="9" fill="#fff"/>
<rect x="576" y="58" width="1" height="19" fill="#000"/>
<rect x="575" y="60" width="3" height="15" fill="#000"/>
<rect x="576" y="61" width="1" height="13" fill="#fff"/>
<rect x="579" y="46" width="1" height="25" fill="#000"/>
<rect x="578" y="48" width="3" height="13" fill="#000"/>
<rect x="579" y="49" width="1" height="11" fill="#fff"/>
<rect x="583" y="44" width="1" height="14" fill="#000"/>
<rect x="582" y="49" width="3" height="5" fill="#000"/>
<rect x="586" y="44" width="1" height="47" fill="#000"/>
<rect x="585" y="49" width="3" height="42" fill="#000"/>
<polyline points="0.0,270.9 2.9,274.7 4.8,276.3 6.7,270.9 8.7,259.3 10.6,247.8 12.5,238.1 14.5,230.4 16.4,226.6 17.5,225.5 21.0,227.5 25.0,229.5 28.0,228.6 30.8,226.6 33.7,228.5 36.6,231.4 40.0,233.3 45.4,234.0 52.0,236.0 60.0,239.2 65.8,239.2 66.5,238.3 70.2,238.3 71.2,240.2 73.3,244.3 76.3,247.3 78.4,248.4 83.8,248.4 85.2,249.4 87.9,250.1 93.7,250.3 95.5,251.5 97.5,252.5 99.6,251.5 102.0,249.0 105.0,247.3 110.0,253.5 117.4,262.2 122.4,261.0 127.4,259.8 130.0,260.9 135.4,262.7 140.0,259.5 142.5,254.0 144.4,247.2 147.0,238.0 148.9,232.7 150.7,225.0 152.4,215.5 154.5,208.6 155.4,205.0 156.6,201.8 157.5,198.2 158.6,195.0 161.1,184.9 167.3,182.9 172.3,184.9 177.3,192.4 182.3,196.2 187.3,201.1 190.0,206.4 192.7,209.5 194.5,215.0 196.4,220.4 199.1,225.9 201.8,228.6 204.5,227.2 208.1,226.3 211.8,223.6 214.5,222.2 217.2,223.6 221.8,225.4 224.5,229.0 227.2,233.1 229.9,236.3 233.6,234.5 237.2,232.2 240.0,230.0 242.4,228.7 248.2,225.5 251.0,220.0 254.3,215.3 257.3,208.0 260.4,199.0 265.5,185.7 272.7,182.2 277.8,186.7 282.9,192.9 288.0,202.0 293.1,206.1 295.4,208.1 300.9,209.9 306.3,206.3 310.0,199.0 313.6,190.9 317.4,182.5 322.7,172.4 325.3,171.0 327.1,169.2 329.8,167.9 331.6,164.7 333.4,161.1 334.8,157.9 336.1,154.7 339.9,152.4 344.9,146.2 352.4,144.4 355.0,146.4 356.8,148.4 358.6,152.0 361.8,157.5 364.8,161.1 369.8,163.6 377.3,158.7 382.3,152.4 389.8,151.2 397.2,152.4 400.0,153.6 407.5,149.9 415.0,146.1 421.2,144.4 427.4,146.1 432.4,149.9 437.4,156.1 442.4,163.6 447.4,172.3 449.9,173.6 453.6,168.6 458.6,149.9 462.3,134.9 465.6,128.0 469.5,117.1 474.3,101.3 477.5,92.5 480.6,90.5 483.8,88.9 486.2,85.4 489.4,88.6 492.5,93.3 495.7,93.0 499.7,91.4 502.9,93.3 506.0,98.1 508.4,98.6 511.6,102.9 516.3,103.2 518.7,103.2 521.9,106.0 526.7,110.0 530.0,110.8 534.0,112.1 539.7,107.8 548.2,88.0 556.7,79.5 565.2,65.3 573.7,51.2 579.3,38.4 583.0,35.6 585.6,39.8" fill="none" stroke="#ff00ff" stroke-width="1" />
<polyline points="0.0,332.0 11.0,310.0 13.6,303.0 16.4,295.8 19.3,291.2 22.7,286.5 27.0,285.5 32.8,283.4 36.6,282.4 40.0,284.4 45.4,284.4 54.4,279.4 61.2,282.0 68.0,288.4 77.1,288.4 87.3,285.0 93.0,287.3 97.3,297.5 100.0,305.0 104.7,310.0 107.5,316.2 115.0,318.7 125.0,318.0 130.0,315.3 134.5,315.5 138.5,315.0 142.1,307.0 146.2,300.2 150.2,294.7 152.3,292.0 153.6,288.6 155.0,284.5 157.7,278.4 161.1,272.3 164.5,267.5 167.9,263.4 172.0,260.7 180.8,261.0 186.3,259.1 190.0,258.1 195.0,257.4 200.0,259.1 203.6,261.3 207.3,264.1 210.0,266.3 212.7,270.4 215.4,272.7 218.1,274.5 221.8,278.6 225.4,280.0 229.0,279.0 232.7,275.9 236.3,273.1 239.9,270.4 243.6,268.6 247.2,267.7 250.0,265.9 253.0,263.0 256.1,259.0 262.2,250.3 267.7,244.9 272.0,243.0 277.2,241.5 282.7,238.8 288.1,236.0 293.5,237.4 300.3,240.1 304.4,238.8 309.9,231.3 315.3,224.5 320.0,219.7 322.7,216.3 329.9,211.8 335.4,207.2 340.8,202.7 346.3,198.1 351.7,195.4 357.2,192.7 362.6,189.1 370.0,183.6 374.8,179.9 382.3,176.1 390.9,181.5 399.7,187.4 408.6,200.6 417.4,209.5 426.3,218.3 433.7,222.2 439.6,221.3 447.0,216.9 453.0,209.0 459.9,198.5 467.3,189.8 474.8,179.8 478.8,172.0 484.8,166.1 487.7,161.6 494.8,154.9 502.2,148.6 505.4,145.4 510.0,142.4 514.2,138.0 520.1,136.5 524.1,137.6 529.0,136.5 537.8,132.1 546.7,124.7 555.5,117.4 564.4,109.0 573.7,96.5 582.2,88.0 586.7,86.6" fill="none" stroke="#ff00ff" stroke-width="1" />
<polyline points="0.0,398.0 2.3,384.4 4.5,375.4 7.9,370.4 13.6,369.7 19.3,362.9 23.8,352.7 29.5,345.9 35.1,336.8 39.7,338.6 43.1,337.9 47.6,330.0 53.6,323.7 59.9,331.1 67.3,344.9 74.8,334.9 82.3,326.9 87.3,324.4 93.5,329.9 98.5,343.6 102.2,362.3 104.0,378.8 107.4,382.9 111.5,382.9 114.3,384.2 117.0,379.5 121.7,380.1 125.8,378.8 129.9,377.4 134.0,374.0 139.4,369.3 145.0,367.2 149.9,366.8 154.8,371.0 162.3,369.8 167.3,362.3 174.8,338.7 179.8,334.9 184.8,323.7 192.2,310.0 197.4,296.3 201.3,294.4 205.3,299.5 209.3,308.3 213.3,317.0 217.2,326.5 220.4,333.7 223.6,334.4 226.7,331.3 229.1,323.3 233.1,317.0 239.4,312.2 247.4,309.4 255.3,309.4 265.0,311.4 270.0,310.0 274.8,303.5 279.5,294.0 284.3,282.9 288.3,271.0 291.4,268.9 293.8,270.2 296.2,271.7 301.0,271.0 306.5,267.0 310.5,262.2 312.9,261.4 317.6,262.2 320.0,261.2 322.0,260.5 327.5,260.2 328.8,259.1 334.3,259.1 336.3,258.1 339.7,256.4 342.4,256.1 344.5,255.1 346.5,253.4 349.3,252.0 351.3,250.3 352.7,247.9 354.0,245.2 355.0,242.5 356.1,239.1 357.1,235.0 359.2,231.3 362.0,224.5 364.3,217.7 366.5,211.4 368.8,207.5 372.2,204.6 376.7,202.9 380.1,202.7 383.5,200.7 386.0,200.8 389.0,203.5 392.3,207.3 399.7,220.0 405.6,237.5 411.1,250.0 414.5,262.2 417.9,277.2 420.0,285.4 422.7,290.1 426.8,297.6 430.2,304.4 433.6,299.0 437.7,289.5 441.7,279.9 445.8,269.0 448.5,262.2 452.6,260.2 455.3,261.6 459.4,265.0 465.0,267.4 472.0,267.0 477.9,268.5 482.3,258.2 486.8,241.9 491.2,228.7 496.5,220.0 502.4,204.4 508.3,189.6 514.2,173.4 520.1,168.4 526.0,167.5 531.9,163.1 540.8,158.7 549.6,155.7 558.5,152.8 570.0,151.3 579.4,148.2 585.6,140.2" fill="none" stroke="#ff00ff" stroke-width="1" />
<line x1="364" y1="148.5" x2="623" y2="148.5" stroke="#ff0000"/>
<line x1="326" y1="162.5" x2="623" y2="162.5" stroke="#ff0000"/>
<line x1="248" y1="199.5" x2="623" y2="199.5" stroke="#ff0000"/>
<line x1="157" y1="209.5" x2="623" y2="209.5" stroke="#ff0000"/>
<line x1="0" y1="216.5" x2="167" y2="300.3" stroke="#0000ff"/>
<line x1="157.3" y1="194.9" x2="237.4" y2="287.3" stroke="#0000ff"/>
<line x1="153.6" y1="248.1" x2="229.9" y2="336" stroke="#0000ff"/>
<line x1="379.3" y1="138.7" x2="442.5" y2="266.5" stroke="#0000ff"/>
<line x1="370.3" y1="181.1" x2="426.8" y2="291.5" stroke="#0000ff"/>
<line x1="0.85" y1="297.2" x2="163" y2="377.5" stroke="#0000ff" stroke-dasharray="4.5 4.5"/>
<line x1="0" y1="189" x2="5" y2="178" stroke="#00ff00"/>
<line x1="0" y1="305" x2="43" y2="195" stroke="#00ff00"/>
<line x1="95.2" y1="385.6" x2="426.2" y2="199.3" stroke="#00ff00"/>
<line x1="100.9" y1="392.4" x2="179.8" y2="227.3" stroke="#008000"/>
<line x1="213.3" y1="332" x2="278.5" y2="212.5" stroke="#00ff00"/>
<line x1="414.5" y1="281.8" x2="601.2" y2="68.5" stroke="#00ff00"/>
<line x1="0" y1="426.5" x2="624" y2="426.5" stroke="#000"/>
<line x1="4.5" y1="427" x2="4.5" y2="441" stroke="#000"/>
<line x1="19.5" y1="427" x2="19.5" y2="441" stroke="#000"/>
<line x1="32.5" y1="427" x2="32.5" y2="441" stroke="#000"/>
<line x1="44.5" y1="427" x2="44.5" y2="441" stroke="#000"/>
<line x1="61.5" y1="427" x2="61.5" y2="441" stroke="#000"/>
<line x1="72.5" y1="427" x2="72.5" y2="441" stroke="#000"/>
<line x1="85.5" y1="427" x2="85.5" y2="441" stroke="#000"/>
<line x1="101.5" y1="427" x2="101.5" y2="441" stroke="#000"/>
<line x1="114.5" y1="427" x2="114.5" y2="441" stroke="#000"/>
<line x1="126.5" y1="427" x2="126.5" y2="441" stroke="#000"/>
<line x1="142.5" y1="427" x2="142.5" y2="441" stroke="#000"/>
<line x1="154.5" y1="427" x2="154.5" y2="441" stroke="#000"/>
<line x1="170.5" y1="427" x2="170.5" y2="441" stroke="#000"/>
<line x1="182.5" y1="427" x2="182.5" y2="441" stroke="#000"/>
<line x1="195.5" y1="427" x2="195.5" y2="441" stroke="#000"/>
<line x1="208.5" y1="427" x2="208.5" y2="441" stroke="#000"/>
<line x1="223.5" y1="427" x2="223.5" y2="441" stroke="#000"/>
<line x1="236.5" y1="427" x2="236.5" y2="441" stroke="#000"/>
<line x1="248.5" y1="427" x2="248.5" y2="441" stroke="#000"/>
<line x1="264.5" y1="427" x2="264.5" y2="441" stroke="#000"/>
<line x1="276.5" y1="427" x2="276.5" y2="441" stroke="#000"/>
<line x1="292.5" y1="427" x2="292.5" y2="441" stroke="#000"/>
<line x1="304.5" y1="427" x2="304.5" y2="441" stroke="#000"/>
<line x1="317.5" y1="427" x2="317.5" y2="441" stroke="#000"/>
<line x1="333.5" y1="427" x2="333.5" y2="441" stroke="#000"/>
<line x1="345.5" y1="427" x2="345.5" y2="441" stroke="#000"/>
<line x1="357.5" y1="427" x2="357.5" y2="441" stroke="#000"/>
<line x1="374.5" y1="427" x2="374.5" y2="441" stroke="#000"/>
<line x1="386.5" y1="427" x2="386.5" y2="441" stroke="#000"/>
<line x1="399.5" y1="427" x2="399.5" y2="441" stroke="#000"/>
<line x1="414.5" y1="427" x2="414.5" y2="441" stroke="#000"/>
<line x1="427.5" y1="427" x2="427.5" y2="441" stroke="#000"/>
<line x1="439.5" y1="427" x2="439.5" y2="441" stroke="#000"/>
<line x1="455.5" y1="427" x2="455.5" y2="441" stroke="#000"/>
<line x1="467.5" y1="427" x2="467.5" y2="441" stroke="#000"/>
<line x1="480.5" y1="427" x2="480.5" y2="441" stroke="#000"/>
<line x1="495.5" y1="427" x2="495.5" y2="441" stroke="#000"/>
<line x1="508.5" y1="427" x2="508.5" y2="441" stroke="#000"/>
<line x1="520.5" y1="427" x2="520.5" y2="441" stroke="#000"/>
<line x1="536.5" y1="427" x2="536.5" y2="441" stroke="#000"/>
<line x1="548.5" y1="427" x2="548.5" y2="441" stroke="#000"/>
<line x1="561.5" y1="427" x2="561.5" y2="441" stroke="#000"/>
<line x1="576.5" y1="427" x2="576.5" y2="441" stroke="#000"/>
<line x1="589.5" y1="427" x2="589.5" y2="441" stroke="#000"/>
<line x1="604.5" y1="427" x2="604.5" y2="441" stroke="#000"/>
<line x1="617.5" y1="427" x2="617.5" y2="441" stroke="#000"/>
<rect x="624" y="0" width="47" height="441" fill="#fff"/>
<line x1="623.5" y1="0" x2="623.5" y2="427" stroke="#000"/>
<line x1="624" y1="421.5" x2="627" y2="421.5" stroke="#000"/>
<line x1="624" y1="416.5" x2="627" y2="416.5" stroke="#000"/>
<line x1="624" y1="412.5" x2="627" y2="412.5" stroke="#000"/>
<line x1="624" y1="407.5" x2="627" y2="407.5" stroke="#000"/>
<line x1="624" y1="403.5" x2="631" y2="403.5" stroke="#000"/>
<line x1="624" y1="398.5" x2="627" y2="398.5" stroke="#000"/>
<line x1="624" y1="394.5" x2="627" y2="394.5" stroke="#000"/>
<line x1="624" y1="390.5" x2="627" y2="390.5" stroke="#000"/>
<line x1="624" y1="385.5" x2="627" y2="385.5" stroke="#000"/>
<line x1="624" y1="381.5" x2="631" y2="381.5" stroke="#000"/>
<line x1="624" y1="376.5" x2="627" y2="376.5" stroke="#000"/>
<line x1="624" y1="372.5" x2="627" y2="372.5" stroke="#000"/>
<line x1="624" y1="368.5" x2="627" y2="368.5" stroke="#000"/>
<line x1="624" y1="364.5" x2="627" y2="364.5" stroke="#000"/>
<line x1="624" y1="359.5" x2="631" y2="359.5" stroke="#000"/>
<line x1="624" y1="355.5" x2="627" y2="355.5" stroke="#000"/>
<line x1="624" y1="351.5" x2="627" y2="351.5" stroke="#000"/>
<line x1="624" y1="347.5" x2="627" y2="347.5" stroke="#000"/>
<line x1="624" y1="343.5" x2="627" y2="343.5" stroke="#000"/>
<line x1="624" y1="338.5" x2="631" y2="338.5" stroke="#000"/>
<line x1="624" y1="334.5" x2="627" y2="334.5" stroke="#000"/>
<line x1="624" y1="330.5" x2="627" y2="330.5" stroke="#000"/>
<line x1="624" y1="326.5" x2="627" y2="326.5" stroke="#000"/>
<line x1="624" y1="322.5" x2="627" y2="322.5" stroke="#000"/>
<line x1="624" y1="318.5" x2="631" y2="318.5" stroke="#000"/>
<line x1="624" y1="314.5" x2="627" y2="314.5" stroke="#000"/>
<line x1="624" y1="310.5" x2="627" y2="310.5" stroke="#000"/>
<line x1="624" y1="306.5" x2="627" y2="306.5" stroke="#000"/>
<line x1="624" y1="302.5" x2="627" y2="302.5" stroke="#000"/>
<line x1="624" y1="298.5" x2="631" y2="298.5" stroke="#000"/>
<line x1="624" y1="294.5" x2="627" y2="294.5" stroke="#000"/>
<line x1="624" y1="290.5" x2="627" y2="290.5" stroke="#000"/>
<line x1="624" y1="287.5" x2="627" y2="287.5" stroke="#000"/>
<line x1="624" y1="283.5" x2="627" y2="283.5" stroke="#000"/>
<line x1="624" y1="279.5" x2="631" y2="279.5" stroke="#000"/>
<line x1="624" y1="275.5" x2="627" y2="275.5" stroke="#000"/>
<line x1="624" y1="271.5" x2="627" y2="271.5" stroke="#000"/>
<line x1="624" y1="268.5" x2="627" y2="268.5" stroke="#000"/>
<line x1="624" y1="264.5" x2="627" y2="264.5" stroke="#000"/>
<line x1="624" y1="260.5" x2="631" y2="260.5" stroke="#000"/>
<line x1="624" y1="256.5" x2="627" y2="256.5" stroke="#000"/>
<line x1="624" y1="253.5" x2="627" y2="253.5" stroke="#000"/>
<line x1="624" y1="249.5" x2="627" y2="249.5" stroke="#000"/>
<line x1="624" y1="245.5" x2="627" y2="245.5" stroke="#000"/>
<line x1="624" y1="242.5" x2="631" y2="242.5" stroke="#000"/>
<line x1="624" y1="238.5" x2="627" y2="238.5" stroke="#000"/>
<line x1="624" y1="235.5" x2="627" y2="235.5" stroke="#000"/>
<line x1="624" y1="231.5" x2="627" y2="231.5" stroke="#000"/>
<line x1="624" y1="227.5" x2="627" y2="227.5" stroke="#000"/>
<line x1="624" y1="224.5" x2="631" y2="224.5" stroke="#000"/>
<line x1="624" y1="220.5" x2="627" y2="220.5" stroke="#000"/>
<line x1="624" y1="217.5" x2="627" y2="217.5" stroke="#000"/>
<line x1="624" y1="213.5" x2="627" y2="213.5" stroke="#000"/>
<line x1="624" y1="210.5" x2="627" y2="210.5" stroke="#000"/>
<line x1="624" y1="206.5" x2="631" y2="206.5" stroke="#000"/>
<line x1="624" y1="203.5" x2="627" y2="203.5" stroke="#000"/>
<line x1="624" y1="199.5" x2="627" y2="199.5" stroke="#000"/>
<line x1="624" y1="196.5" x2="627" y2="196.5" stroke="#000"/>
<line x1="624" y1="193.5" x2="627" y2="193.5" stroke="#000"/>
<line x1="624" y1="189.5" x2="631" y2="189.5" stroke="#000"/>
<line x1="624" y1="186.5" x2="627" y2="186.5" stroke="#000"/>
<line x1="624" y1="182.5" x2="627" y2="182.5" stroke="#000"/>
<line x1="624" y1="179.5" x2="627" y2="179.5" stroke="#000"/>
<line x1="624" y1="176.5" x2="627" y2="176.5" stroke="#000"/>
<line x1="624" y1="172.5" x2="631" y2="172.5" stroke="#000"/>
<line x1="624" y1="169.5" x2="627" y2="169.5" stroke="#000"/>
<line x1="624" y1="166.5" x2="627" y2="166.5" stroke="#000"/>
<line x1="624" y1="163.5" x2="627" y2="163.5" stroke="#000"/>
<line x1="624" y1="159.5" x2="627" y2="159.5" stroke="#000"/>
<line x1="624" y1="156.5" x2="631" y2="156.5" stroke="#000"/>
<line x1="624" y1="153.5" x2="627" y2="153.5" stroke="#000"/>
<line x1="624" y1="150.5" x2="627" y2="150.5" stroke="#000"/>
<line x1="624" y1="146.5" x2="627" y2="146.5" stroke="#000"/>
<line x1="624" y1="143.5" x2="627" y2="143.5" stroke="#000"/>
<line x1="624" y1="140.5" x2="631" y2="140.5" stroke="#000"/>
<line x1="624" y1="137.5" x2="627" y2="137.5" stroke="#000"/>
<line x1="624" y1="134.5" x2="627" y2="134.5" stroke="#000"/>
<line x1="624" y1="130.5" x2="627" y2="130.5" stroke="#000"/>
<line x1="624" y1="127.5" x2="627" y2="127.5" stroke="#000"/>
<line x1="624" y1="124.5" x2="631" y2="124.5" stroke="#000"/>
<line x1="624" y1="121.5" x2="627" y2="121.5" stroke="#000"/>
<line x1="624" y1="118.5" x2="627" y2="118.5" stroke="#000"/>
<line x1="624" y1="115.5" x2="627" y2="115.5" stroke="#000"/>
<line x1="624" y1="112.5" x2="627" y2="112.5" stroke="#000"/>
<line x1="624" y1="109.5" x2="631" y2="109.5" stroke="#000"/>
<line x1="624" y1="106.5" x2="627" y2="106.5" stroke="#000"/>
<line x1="624" y1="103.5" x2="627" y2="103.5" stroke="#000"/>
<line x1="624" y1="100.5" x2="627" y2="100.5" stroke="#000"/>
<line x1="624" y1="97.5" x2="627" y2="97.5" stroke="#000"/>
<line x1="624" y1="94.5" x2="631" y2="94.5" stroke="#000"/>
<line x1="624" y1="91.5" x2="627" y2="91.5" stroke="#000"/>
<line x1="624" y1="88.5" x2="627" y2="88.5" stroke="#000"/>
<line x1="624" y1="85.5" x2="627" y2="85.5" stroke="#000"/>
<line x1="624" y1="82.5" x2="627" y2="82.5" stroke="#000"/>
<line x1="624" y1="79.5" x2="631" y2="79.5" stroke="#000"/>
<line x1="624" y1="76.5" x2="627" y2="76.5" stroke="#000"/>
<line x1="624" y1="73.5" x2="627" y2="73.5" stroke="#000"/>
<line x1="624" y1="70.5" x2="627" y2="70.5" stroke="#000"/>
<line x1="624" y1="67.5" x2="627" y2="67.5" stroke="#000"/>
<line x1="624" y1="64.5" x2="631" y2="64.5" stroke="#000"/>
<line x1="624" y1="62.5" x2="627" y2="62.5" stroke="#000"/>
<line x1="624" y1="59.5" x2="627" y2="59.5" stroke="#000"/>
<line x1="624" y1="56.5" x2="627" y2="56.5" stroke="#000"/>
<line x1="624" y1="53.5" x2="627" y2="53.5" stroke="#000"/>
<line x1="624" y1="50.5" x2="631" y2="50.5" stroke="#000"/>
<line x1="624" y1="47.5" x2="627" y2="47.5" stroke="#000"/>
<line x1="624" y1="44.5" x2="627" y2="44.5" stroke="#000"/>
<line x1="624" y1="42.5" x2="627" y2="42.5" stroke="#000"/>
<line x1="624" y1="39.5" x2="627" y2="39.5" stroke="#000"/>
<line x1="624" y1="36.5" x2="631" y2="36.5" stroke="#000"/>
<line x1="624" y1="33.5" x2="627" y2="33.5" stroke="#000"/>
<line x1="624" y1="31.5" x2="627" y2="31.5" stroke="#000"/>
<line x1="624" y1="28.5" x2="627" y2="28.5" stroke="#000"/>
<line x1="624" y1="25.5" x2="627" y2="25.5" stroke="#000"/>
<line x1="624" y1="22.5" x2="631" y2="22.5" stroke="#000"/>
<line x1="624" y1="20.5" x2="627" y2="20.5" stroke="#000"/>
<line x1="624" y1="17.5" x2="627" y2="17.5" stroke="#000"/>
<line x1="624" y1="14.5" x2="627" y2="14.5" stroke="#000"/>
<line x1="624" y1="12.5" x2="627" y2="12.5" stroke="#000"/>
<line x1="624" y1="9.5" x2="631" y2="9.5" stroke="#000"/>
<line x1="624" y1="6.5" x2="627" y2="6.5" stroke="#000"/>
<line x1="624" y1="4.5" x2="627" y2="4.5" stroke="#000"/>
<line x1="624" y1="1.5" x2="627" y2="1.5" stroke="#000"/>
<text transform="translate(641.3,409.0) scale(0.9,1)" class="ax">1700</text>
<text transform="translate(641.3,386.9) scale(0.9,1)" class="ax">1750</text>
<text transform="translate(641.3,365.4) scale(0.9,1)" class="ax">1800</text>
<text transform="translate(641.3,344.5) scale(0.9,1)" class="ax">1850</text>
<text transform="translate(641.3,324.2) scale(0.9,1)" class="ax">1900</text>
<text transform="translate(641.3,304.4) scale(0.9,1)" class="ax">1950</text>
<text transform="translate(641.3,285.1) scale(0.9,1)" class="ax">2000</text>
<text transform="translate(641.3,266.2) scale(0.9,1)" class="ax">2050</text>
<text transform="translate(641.3,247.9) scale(0.9,1)" class="ax">2100</text>
<text transform="translate(641.3,229.9) scale(0.9,1)" class="ax">2150</text>
<text transform="translate(641.3,212.4) scale(0.9,1)" class="ax">2200</text>
<text transform="translate(641.3,195.2) scale(0.9,1)" class="ax">2250</text>
<text transform="translate(641.3,178.5) scale(0.9,1)" class="ax">2300</text>
<text transform="translate(641.3,162.1) scale(0.9,1)" class="ax">2350</text>
<text transform="translate(641.3,146.0) scale(0.9,1)" class="ax">2400</text>
<text transform="translate(641.3,130.3) scale(0.9,1)" class="ax">2450</text>
<text transform="translate(641.3,114.9) scale(0.9,1)" class="ax">2500</text>
<text transform="translate(641.3,99.8) scale(0.9,1)" class="ax">2550</text>
<text transform="translate(641.3,85.0) scale(0.9,1)" class="ax">2600</text>
<text transform="translate(641.3,70.5) scale(0.9,1)" class="ax">2650</text>
<text transform="translate(641.3,56.2) scale(0.9,1)" class="ax">2700</text>
<text transform="translate(641.3,42.2) scale(0.9,1)" class="ax">2750</text>
<text transform="translate(641.3,28.5) scale(0.9,1)" class="ax">2800</text>
<text transform="translate(641.3,15.0) scale(0.9,1)" class="ax">2850</text>
<text transform="translate(5.8,439) scale(0.9,1)" class="mo">2004</text>
<text transform="translate(45.8,439) scale(0.9,1)" class="mo">A</text>
<text transform="translate(62.8,439) scale(0.9,1)" class="mo">M</text>
<text transform="translate(86.8,439) scale(0.9,1)" class="mo">J</text>
<text transform="translate(102.8,439) scale(0.9,1)" class="mo">A</text>
<text transform="translate(115.8,439) scale(0.9,1)" class="mo">S</text>
<text transform="translate(127.8,439) scale(0.9,1)" class="mo">O</text>
<text transform="translate(143.8,439) scale(0.9,1)" class="mo">N</text>
<text transform="translate(155.8,439) scale(0.9,1)" class="mo">D</text>
<text transform="translate(171.8,439) scale(0.9,1)" class="mo">2005</text>
<text transform="translate(209.8,439) scale(0.9,1)" class="mo">A</text>
<text transform="translate(224.8,439) scale(0.9,1)" class="mo">M</text>
<text transform="translate(237.8,439) scale(0.9,1)" class="mo">J</text>
<text transform="translate(249.8,439) scale(0.9,1)" class="mo">J</text>
<text transform="translate(265.8,439) scale(0.9,1)" class="mo">A</text>
<text transform="translate(277.8,439) scale(0.9,1)" class="mo">S</text>
<text transform="translate(293.8,439) scale(0.9,1)" class="mo">O</text>
<text transform="translate(305.8,439) scale(0.9,1)" class="mo">N</text>
<text transform="translate(318.8,439) scale(0.9,1)" class="mo">D</text>
<text transform="translate(334.8,439) scale(0.9,1)" class="mo">2006</text>
<text transform="translate(375.8,439) scale(0.9,1)" class="mo">A</text>
<text transform="translate(387.8,439) scale(0.9,1)" class="mo">M</text>
<text transform="translate(400.8,439) scale(0.9,1)" class="mo">J</text>
<text transform="translate(415.8,439) scale(0.9,1)" class="mo">J</text>
<text transform="translate(428.8,439) scale(0.9,1)" class="mo">A</text>
<text transform="translate(440.8,439) scale(0.9,1)" class="mo">S</text>
<text transform="translate(456.8,439) scale(0.9,1)" class="mo">O</text>
<text transform="translate(468.8,439) scale(0.9,1)" class="mo">N</text>
<text transform="translate(481.8,439) scale(0.9,1)" class="mo">D</text>
<text transform="translate(496.8,439) scale(0.9,1)" class="mo">2007</text>
<text transform="translate(537.8,439) scale(0.9,1)" class="mo">A</text>
<text transform="translate(549.8,439) scale(0.9,1)" class="mo">M</text>
<text transform="translate(562.8,439) scale(0.9,1)" class="mo">J</text>
<text transform="translate(577.8,439) scale(0.9,1)" class="mo">J</text>
<text transform="translate(590.8,439) scale(0.9,1)" class="mo">A</text>
<text transform="translate(605.8,439) scale(0.9,1)" class="mo">S</text>
<text transform="translate(618.8,439) scale(0.9,1)" class="mo">O</text>
<text transform="translate(-6.5,439) scale(0.9,1)" class="mo">D</text>
<rect x="623" y="427" width="48" height="14" fill="#fff"/>
</svg>
</body></html>
